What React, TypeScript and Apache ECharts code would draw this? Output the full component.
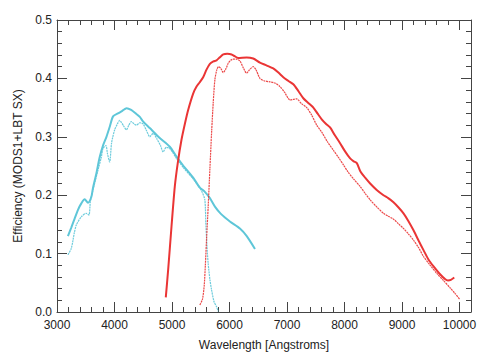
import React, { useEffect, useRef } from "react";
import * as echarts from "echarts";

// Wavelength (Angstrom), efficiency pairs
const blueSolid: [number, number][] = [
  [3190, 0.130], [3250, 0.145], [3307, 0.160], [3365, 0.175], [3423, 0.186], [3481, 0.193],
  [3539, 0.187], [3597, 0.197], [3625, 0.212], [3684, 0.237], [3742, 0.265], [3800, 0.285],
  [3860, 0.300], [3920, 0.318], [3975, 0.335], [4060, 0.340], [4130, 0.344], [4210, 0.349],
  [4290, 0.346], [4380, 0.339], [4440, 0.334], [4500, 0.326], [4613, 0.315], [4787, 0.298],
  [4962, 0.283], [5078, 0.266], [5200, 0.250], [5368, 0.230], [5484, 0.213], [5560, 0.207],
  [5659, 0.195], [5750, 0.180], [5850, 0.168], [6007, 0.155], [6181, 0.143], [6300, 0.130],
  [6443, 0.108],
];

const blueDotted: [number, number][] = [
  [3190, 0.098], [3249, 0.109], [3300, 0.135], [3336, 0.149], [3423, 0.163], [3510, 0.169],
  [3556, 0.166], [3580, 0.189], [3625, 0.209], [3713, 0.243], [3771, 0.265], [3800, 0.280],
  [3850, 0.285], [3880, 0.270], [3916, 0.257], [3950, 0.290], [4003, 0.312], [4050, 0.322],
  [4090, 0.328], [4150, 0.320], [4207, 0.312], [4250, 0.320], [4294, 0.326], [4340, 0.322],
  [4381, 0.320], [4440, 0.324], [4497, 0.322], [4560, 0.310], [4613, 0.300], [4671, 0.306],
  [4740, 0.296], [4800, 0.285], [4845, 0.274], [4900, 0.282], [4962, 0.280], [5078, 0.263],
  [5200, 0.247], [5368, 0.228], [5484, 0.212], [5513, 0.208], [5571, 0.192], [5589, 0.150],
  [5610, 0.110], [5629, 0.083], [5660, 0.055], [5688, 0.038], [5730, 0.018], [5775, 0.009],
  [5804, 0.001],
];

const redSolid: [number, number][] = [
  [4892, 0.025], [4933, 0.072], [4991, 0.146], [5049, 0.215], [5100, 0.255], [5165, 0.295],
  [5230, 0.325], [5281, 0.346], [5368, 0.374], [5427, 0.386], [5480, 0.393], [5542, 0.402],
  [5600, 0.415], [5659, 0.425], [5720, 0.429], [5775, 0.431], [5830, 0.436], [5891, 0.441],
  [5960, 0.442], [6036, 0.441], [6090, 0.438], [6150, 0.435], [6298, 0.436], [6413, 0.434],
  [6529, 0.427], [6650, 0.422], [6761, 0.417], [6850, 0.410], [6936, 0.402], [7020, 0.396],
  [7110, 0.390], [7200, 0.378], [7284, 0.366], [7370, 0.358], [7458, 0.350], [7530, 0.340],
  [7604, 0.330], [7680, 0.322], [7749, 0.316], [7830, 0.303], [7923, 0.289], [8010, 0.275],
  [8098, 0.263], [8160, 0.258], [8214, 0.255], [8280, 0.240], [8359, 0.230], [8446, 0.220],
  [8560, 0.209], [8678, 0.200], [8760, 0.195], [8852, 0.188], [8940, 0.179], [9026, 0.169],
  [9110, 0.156], [9200, 0.140], [9290, 0.122], [9374, 0.106], [9460, 0.090], [9549, 0.078],
  [9650, 0.066], [9753, 0.056], [9800, 0.054], [9850, 0.055], [9909, 0.059],
];

const redDotted: [number, number][] = [
  [5484, 0.012], [5530, 0.022], [5560, 0.045], [5580, 0.080], [5600, 0.123], [5629, 0.180],
  [5659, 0.245], [5690, 0.310], [5716, 0.357], [5745, 0.397], [5780, 0.415], [5810, 0.420],
  [5850, 0.417], [5891, 0.410], [5940, 0.417], [5978, 0.426], [6020, 0.431], [6065, 0.433],
  [6120, 0.433], [6181, 0.430], [6240, 0.418], [6298, 0.409], [6350, 0.415], [6413, 0.420],
  [6460, 0.415], [6529, 0.400], [6600, 0.396], [6703, 0.394], [6790, 0.392], [6877, 0.386],
  [6960, 0.376], [7052, 0.363], [7110, 0.364], [7168, 0.365], [7250, 0.357], [7343, 0.350],
  [7430, 0.337], [7517, 0.320], [7604, 0.308], [7700, 0.292], [7807, 0.277], [7900, 0.264],
  [7981, 0.252], [8060, 0.240], [8156, 0.228], [8272, 0.215], [8360, 0.203], [8446, 0.192],
  [8560, 0.180], [8678, 0.169], [8760, 0.164], [8852, 0.159], [8940, 0.151], [9026, 0.143],
  [9110, 0.134], [9200, 0.123], [9290, 0.110], [9374, 0.095], [9490, 0.080], [9606, 0.066],
  [9720, 0.054], [9840, 0.041], [9920, 0.032], [10001, 0.022],
];

const xMin = 3000;
const xMax = 10200;
const yMin = 0;
const yMax = 0.5;

const BLUE = "#5ec6d8";
const RED = "#ea3535";
const AXIS = "#444444";
const TEXT = "#222222";
const FONT = "Liberation Sans, Arial, Helvetica, sans-serif";

function xAxis(position: "bottom" | "top", major: boolean, labeled: boolean): any {
  return {
    type: "value",
    position,
    min: xMin,
    max: xMax,
    interval: major ? 1000 : 200,
    axisLine: { show: major, onZero: false, lineStyle: { color: AXIS, width: 1 } },
    axisTick: { show: true, inside: true, length: major ? 10 : 5, lineStyle: { color: AXIS, width: 1 } },
    axisLabel: labeled
      ? {
          show: true,
          color: TEXT,
          fontSize: 12,
          fontFamily: FONT,
          margin: 7,
          formatter: (v: number) => (Math.round(v) % 1000 === 0 ? String(Math.round(v)) : ""),
        }
      : { show: false },
    splitLine: { show: false },
    ...(labeled
      ? {
          name: "Wavelength [Angstroms]",
          nameLocation: "middle",
          nameGap: 27,
          nameTextStyle: { color: TEXT, fontSize: 12, fontFamily: FONT },
        }
      : {}),
  };
}

function yAxis(position: "left" | "right", major: boolean, labeled: boolean): any {
  return {
    type: "value",
    position,
    min: yMin,
    max: yMax,
    interval: major ? 0.1 : 0.02,
    axisLine: { show: major, onZero: false, lineStyle: { color: AXIS, width: 1 } },
    axisTick: { show: true, inside: true, length: major ? 10 : 5, lineStyle: { color: AXIS, width: 1 } },
    axisLabel: labeled
      ? {
          show: true,
          color: TEXT,
          fontSize: 12,
          fontFamily: FONT,
          margin: 5,
          formatter: (v: number) => v.toFixed(1),
        }
      : { show: false },
    splitLine: { show: false },
    ...(labeled
      ? {
          name: "Efficiency (MODS1+LBT SX)",
          nameLocation: "middle",
          nameGap: 33,
          nameRotate: 90,
          nameTextStyle: { color: TEXT, fontSize: 12, fontFamily: FONT },
        }
      : {}),
  };
}

export default function App() {
  const ref = useRef<HTMLDivElement>(null);
  useEffect(() => {
    if (!ref.current) return;
    const chart = echarts.init(ref.current, null, { renderer: "svg" });
    const line = (data: [number, number][], color: string, dotted: boolean, z: number) => ({
      type: "line",
      xAxisIndex: 0,
      yAxisIndex: 0,
      data,
      showSymbol: false,
      symbol: "none",
      smooth: 0.25,
      z,
      lineStyle: dotted
        ? { color, width: 1.2, type: [2, 0.7], opacity: 0.9 }
        : { color, width: 2 },
    });
    chart.setOption({
      animation: false,
      backgroundColor: "#ffffff",
      grid: { left: 57, right: 29, top: 20, bottom: 44, containLabel: false },
      xAxis: [
        xAxis("bottom", true, true),
        xAxis("bottom", false, false),
        xAxis("top", true, false),
        xAxis("top", false, false),
      ],
      yAxis: [
        yAxis("left", true, true),
        yAxis("left", false, false),
        yAxis("right", true, false),
        yAxis("right", false, false),
      ],
      series: [
        line(blueDotted, BLUE, true, 2),
        line(blueSolid, BLUE, false, 3),
        line(redDotted, RED, true, 4),
        line(redSolid, RED, false, 5),
      ],
    });
    return () => chart.dispose();
  }, []);
  return (
    <div
      ref={ref}
      style={{ position: "fixed", left: 0, top: 0, width: 500, height: 356 }}
    />
  );
}
